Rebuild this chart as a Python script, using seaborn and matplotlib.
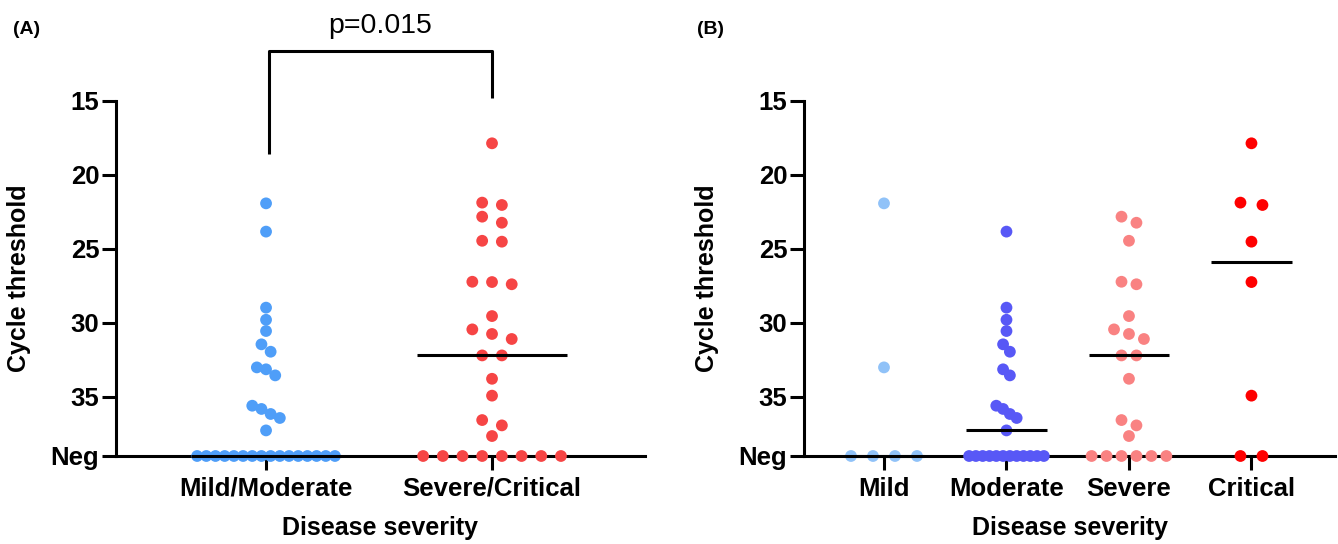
import numpy as np
import pandas as pd
import matplotlib
matplotlib.use("Agg")
import matplotlib.pyplot as plt
import seaborn as sns

# ---------------- data ----------------
NEG = 39.0  # axis position used for "Neg" (no amplification)

mild = [21.92, 33.01] + [NEG] * 4
moderate = [23.83, 28.97, 29.79, 30.55, 31.45, 31.95, 33.14, 33.55,
            35.60, 35.82, 36.16, 36.43, 37.27] + [NEG] * 12
severe = [22.82, 23.23, 24.45, 27.22, 27.39, 29.54, 30.44, 30.75, 31.09,
          32.20, 32.20, 33.78, 36.57, 36.93, 37.65] + [NEG] * 6
critical = [17.86, 21.87, 22.03, 24.51, 27.24, 34.92] + [NEG] * 2

cats_a = ["Mild/Moderate", "Severe/Critical"]
cats_b = ["Mild", "Moderate", "Severe", "Critical"]
groups_a = [mild + moderate, severe + critical]
groups_b = [mild, moderate, severe, critical]
colors_a = ["#4F9EF8", "#F64545"]
colors_b = ["#90C2F8", "#5858F6", "#F98282", "#FE0000"]

ytick_vals = [15, 20, 25, 30, 35, NEG]
ytick_labels = ["15", "20", "25", "30", "35", "Neg"]
p_text = "p=0.015"

# ---------------- style ----------------
sns.set_theme(style="ticks")
plt.rcParams["font.family"] = ["Liberation Sans", "DejaVu Sans"]
plt.rcParams.update({"text.color": "black", "axes.labelcolor": "black",
                     "xtick.color": "black", "ytick.color": "black",
                     "axes.edgecolor": "black"})

W, H, DPI = 1338, 544, 100
fig = plt.figure(figsize=(W / DPI, H / DPI), dpi=DPI)

def px_axes(x0, x1, y0, y1):
    return fig.add_axes([x0 / W, 1 - y1 / H, (x1 - x0) / W, (y1 - y0) / H])

ax_a = px_axes(116, 645, 101, 456)
ax_b = px_axes(804, 1335, 101, 456)

XLIM_A = (-0.664, 1.677)
XLIM_B = (-0.653, 3.682)
LW = 2.2
MARKER_S = 72
TICK_FS = 18.5
LABEL_FS = 18


def spread_offsets(vals, px_per_unit, maxspan=0.61, cap_px=22.0, thresh=0.7):
    """Prism-like column scatter: values closer than `thresh` form a row,
    and rows are spread horizontally with a shared spacing."""
    vals = np.asarray(vals, dtype=float)
    order = np.argsort(vals, kind="stable")
    rows, cur = [], [order[0]]
    for prev, idx in zip(order[:-1], order[1:]):
        if vals[idx] - vals[prev] < thresh:
            cur.append(idx)
        else:
            rows.append(cur)
            cur = [idx]
    rows.append(cur)
    maxrow = max(len(r) for r in rows)
    cap = cap_px / px_per_unit
    spacing = cap if maxrow < 2 else min(cap, maxspan / (maxrow - 1))
    off = np.zeros(len(vals))
    for r in rows:
        k = len(r)
        for j, idx in enumerate(r):
            off[idx] = (j - (k - 1) / 2) * spacing
    return off


def draw_panel(ax, cats, groups, colors, xlim, width_px):
    px_per_unit = width_px / (xlim[1] - xlim[0])
    frames = []
    for i, (c, g) in enumerate(zip(cats, groups)):
        off = spread_offsets(g, px_per_unit)
        frames.append(pd.DataFrame({"x": i + off, "ct": g, "group": c}))
    df = pd.concat(frames, ignore_index=True)
    sns.scatterplot(data=df, x="x", y="ct", hue="group", hue_order=cats,
                    palette=colors, s=MARKER_S, linewidth=0, legend=False,
                    ax=ax, zorder=3, clip_on=False)
    # medians
    for i, g in enumerate(groups):
        med = float(np.median(g))
        ax.hlines(med, i - 0.33, i + 0.33, color="black", lw=LW,
                  zorder=4, clip_on=False)
    ax.set_xlim(*xlim)
    ax.set_ylim(NEG, 15)
    ax.set_xticks(range(len(cats)))
    ax.set_xticklabels(cats)
    ax.set_yticks(ytick_vals)
    ax.set_yticklabels(ytick_labels)
    for lab in ax.get_xticklabels() + ax.get_yticklabels():
        lab.set_fontweight("bold")
        lab.set_fontsize(TICK_FS)
        lab.set_color("black")
    ax.tick_params(axis="both", length=10, width=LW, color="black")
    ax.tick_params(axis="x", pad=5)
    ax.tick_params(axis="y", pad=2)
    sns.despine(ax=ax)
    for sp in ("left", "bottom"):
        ax.spines[sp].set_linewidth(LW)
        ax.spines[sp].set_color("black")
    ax.set_facecolor("white")
    ax.grid(False)
    ax.set_xlabel("Disease severity", fontsize=LABEL_FS, fontweight="bold",
                  color="black")
    ax.set_ylabel("Cycle threshold", fontsize=LABEL_FS, fontweight="bold",
                  color="black")


draw_panel(ax_a, cats_a, groups_a, colors_a, XLIM_A, 529)
draw_panel(ax_b, cats_b, groups_b, colors_b, XLIM_B, 531)

ax_a.yaxis.set_label_coords((31 - 116) / 529, 0.5)
ax_b.yaxis.set_label_coords((719 - 804) / 531, 0.5)
ax_a.xaxis.set_label_coords(0.5, (456 - 516) / 355)
ax_b.xaxis.set_label_coords(0.5, (456 - 516) / 355)

# significance bracket
ax_a.plot([0.015, 0.015, 1.0, 1.0], [18.6, 11.65, 11.65, 14.77],
          color="black", lw=LW, clip_on=False, solid_capstyle="butt")
ax_a.text(0.507, 9.9, p_text, ha="center", va="center", fontsize=20.5,
          color="black")

fig.text(27 / W, 1 - 29 / H, "(A)", ha="center", va="center",
         fontsize=14, fontweight="bold", color="black")
fig.text(710 / W, 1 - 29 / H, "(B)", ha="center", va="center",
         fontsize=14, fontweight="bold", color="black")

fig.savefig("out.png", dpi=DPI, facecolor="white")
